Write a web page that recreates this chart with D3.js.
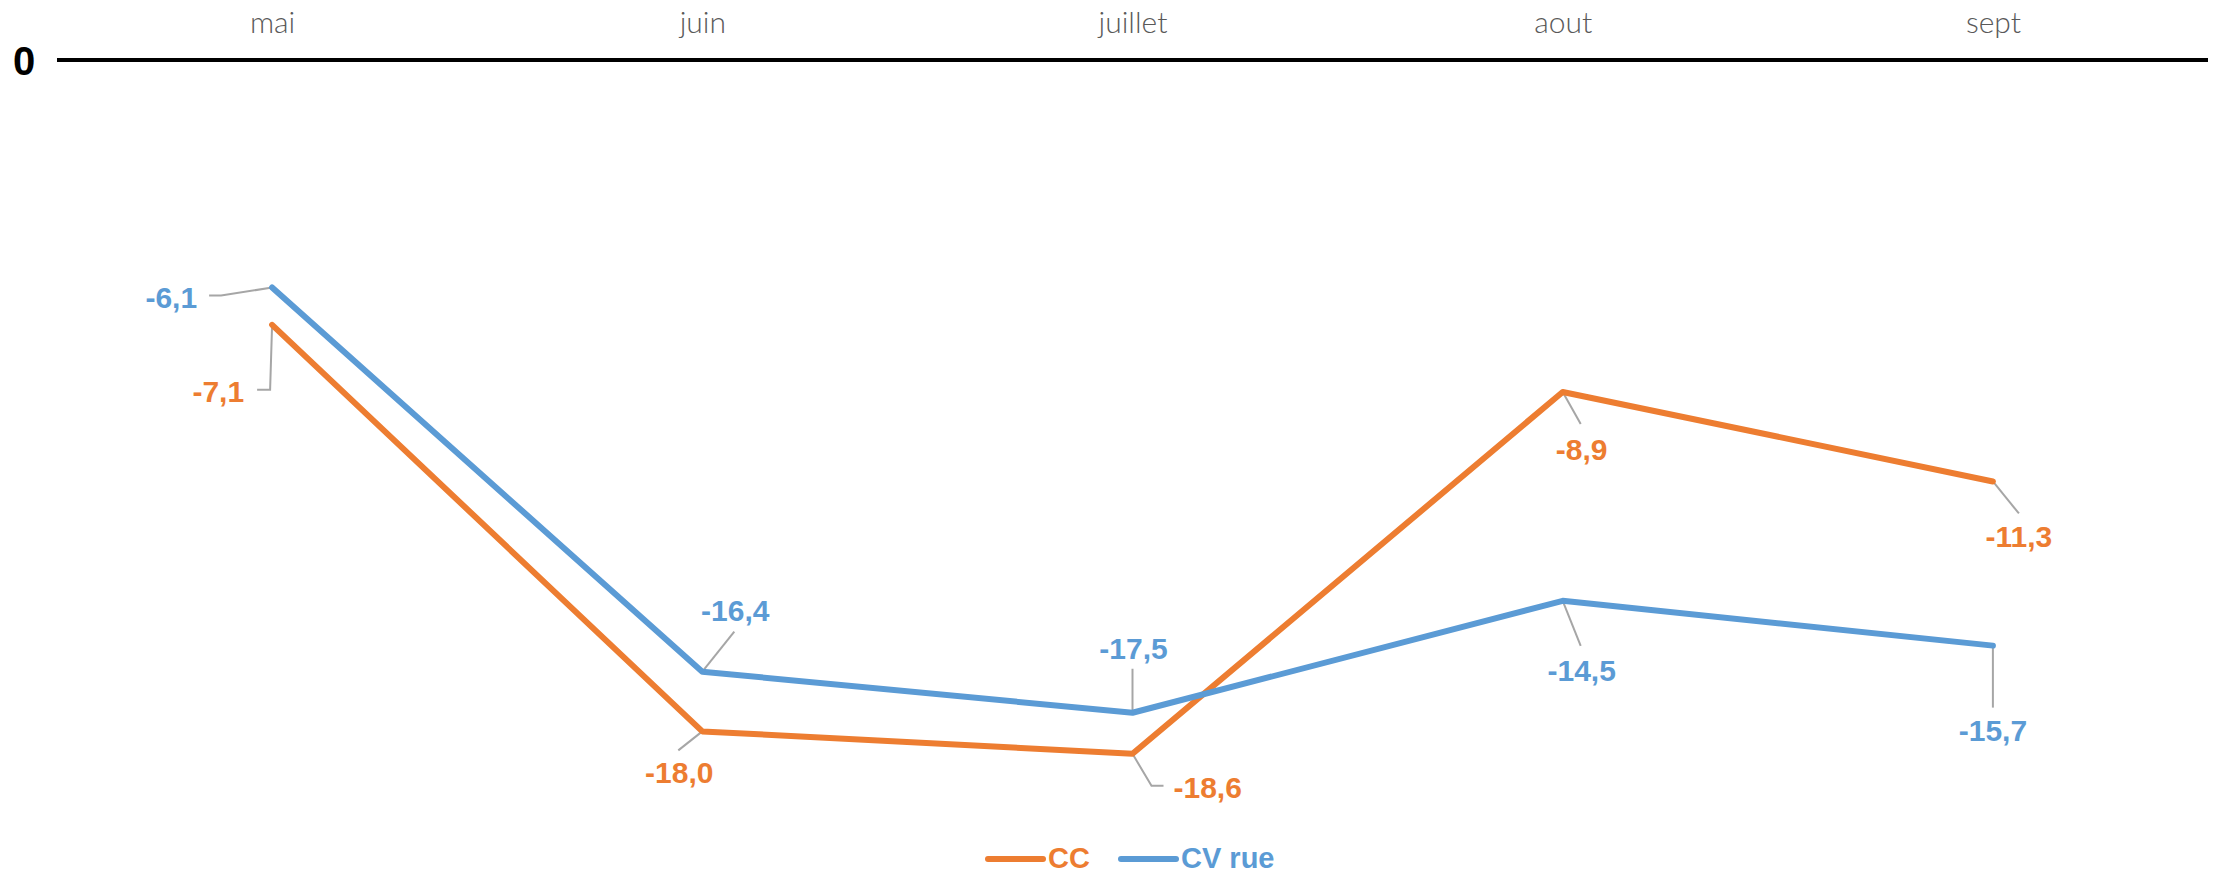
<!DOCTYPE html>
<html><head><meta charset="utf-8">
<script src="https://cdn.jsdelivr.net/npm/d3@7"></script>
<style>
html,body{margin:0;padding:0;background:#fff;}
svg{display:block;}
</style></head>
<body>
<svg id="chart" width="2214" height="875"></svg>
<script>
// ---- data ----
const categories = ["mai", "juin", "juillet", "aout", "sept"];
const seriesNames = ["CC", "CV rue"];
const ccValues = [-7.1, -18.0, -18.6, -8.9, -11.3];
const cvRueValues = [-6.1, -16.4, -17.5, -14.5, -15.7];
const zeroTickLabel = "0";

// ---- layout / style (kept separate from data) ----
const colors = {"CC": "#ED7D31", "CV rue": "#5B9BD5"};
const labelLayout = {
  "CC": [
    {dx: -28, dy: 77, anchor: "end",    leader: [[0,0],[-2,65],[-15,65]]},
    {dx: -23, dy: 52, anchor: "middle", leader: [[0,0],[-24,19]]},
    {dx: 41,  dy: 44, anchor: "start",  leader: [[0,0],[19,32],[31,32]]},
    {dx: 19,  dy: 68, anchor: "middle", leader: [[0,0],[18,32]]},
    {dx: 26,  dy: 66, anchor: "middle", leader: [[0,0],[26,32]]}
  ],
  "CV rue": [
    {dx: -75, dy: 20,  anchor: "end",    leader: [[0,0],[-51,8],[-63,8]]},
    {dx: 33,  dy: -51, anchor: "middle", leader: [[0,0],[32,-40]]},
    {dx: 1,   dy: -54, anchor: "middle", leader: [[0,0],[0,-44]]},
    {dx: 19,  dy: 80,  anchor: "middle", leader: [[0,0],[18,45]]},
    {dx: 0,   dy: 95,  anchor: "middle", leader: [[0,0],[0,62]]}
  ]
};

const series = [
  {name: seriesNames[0], values: ccValues},
  {name: seriesNames[1], values: cvRueValues}
];

const svg = d3.select("#chart");

const x = d3.scalePoint().domain(categories).range([57, 2208]).padding(0.5);
const y = d3.scaleLinear().domain([0, -20]).range([60, 806]);

const fmt = v => d3.format(".1f")(v).replace(".", ",").replace("−", "-");

// zero axis line
svg.append("line")
  .attr("x1", 57).attr("x2", 2208)
  .attr("y1", y(0)).attr("y2", y(0))
  .attr("stroke", "#000").attr("stroke-width", 4);

// zero tick label
svg.append("text")
  .attr("x", 24).attr("y", y(0) + 15)
  .attr("text-anchor", "middle")
  .attr("font-family", "'Liberation Sans', Arial, sans-serif")
  .attr("font-weight", "bold")
  .attr("font-size", 40)
  .attr("fill", "#000")
  .text(zeroTickLabel);

// category labels at top
const xAxis = d3.axisTop(x).tickSize(0).tickPadding(0);
const gx = svg.append("g").attr("transform", "translate(0,33)").call(xAxis);
gx.select(".domain").remove();
gx.selectAll("text")
  .attr("dy", 0)
  .attr("y", 0)
  .attr("font-family", "Lato, 'Open Sans', sans-serif")
  .attr("font-weight", 300)
  .attr("font-size", 30)
  .attr("fill", "#595959");

// lines
const line = d3.line()
  .x((d, i) => x(categories[i]))
  .y(d => y(d));

// leaders first (under lines)
series.forEach(s => {
  s.values.forEach((v, i) => {
    const L = labelLayout[s.name][i];
    const px = x(categories[i]), py = y(v);
    svg.append("path")
      .attr("d", d3.line()(L.leader.map(p => [px + p[0], py + p[1]])))
      .attr("fill", "none")
      .attr("stroke", "#A6A6A6")
      .attr("stroke-width", 2);
  });
});

series.forEach(s => {
  svg.append("path")
    .datum(s.values)
    .attr("d", line)
    .attr("fill", "none")
    .attr("stroke", colors[s.name])
    .attr("stroke-width", 6)
    .attr("stroke-linejoin", "round")
    .attr("stroke-linecap", "round");
});

// data labels
series.forEach(s => {
  s.values.forEach((v, i) => {
    const L = labelLayout[s.name][i];
    svg.append("text")
      .attr("x", x(categories[i]) + L.dx)
      .attr("y", y(v) + L.dy)
      .attr("text-anchor", L.anchor)
      .attr("font-family", "'Liberation Sans', Arial, sans-serif")
      .attr("font-weight", "bold")
      .attr("font-size", 30)
      .attr("fill", colors[s.name])
      .text(fmt(v));
  });
});

// legend
const legendItems = [
  {name: seriesNames[0], x0: 988},
  {name: seriesNames[1], x0: 1121}
];
const lg = svg.append("g");
legendItems.forEach(it => {
  lg.append("line")
    .attr("x1", it.x0).attr("x2", it.x0 + 55)
    .attr("y1", 859).attr("y2", 859)
    .attr("stroke", colors[it.name])
    .attr("stroke-width", 6)
    .attr("stroke-linecap", "round");
  lg.append("text")
    .attr("x", it.x0 + 60).attr("y", 868)
    .attr("font-family", "'Liberation Sans', Arial, sans-serif")
    .attr("font-weight", "bold")
    .attr("font-size", 29)
    .attr("fill", colors[it.name])
    .text(it.name);
});
</script>
</body></html>
